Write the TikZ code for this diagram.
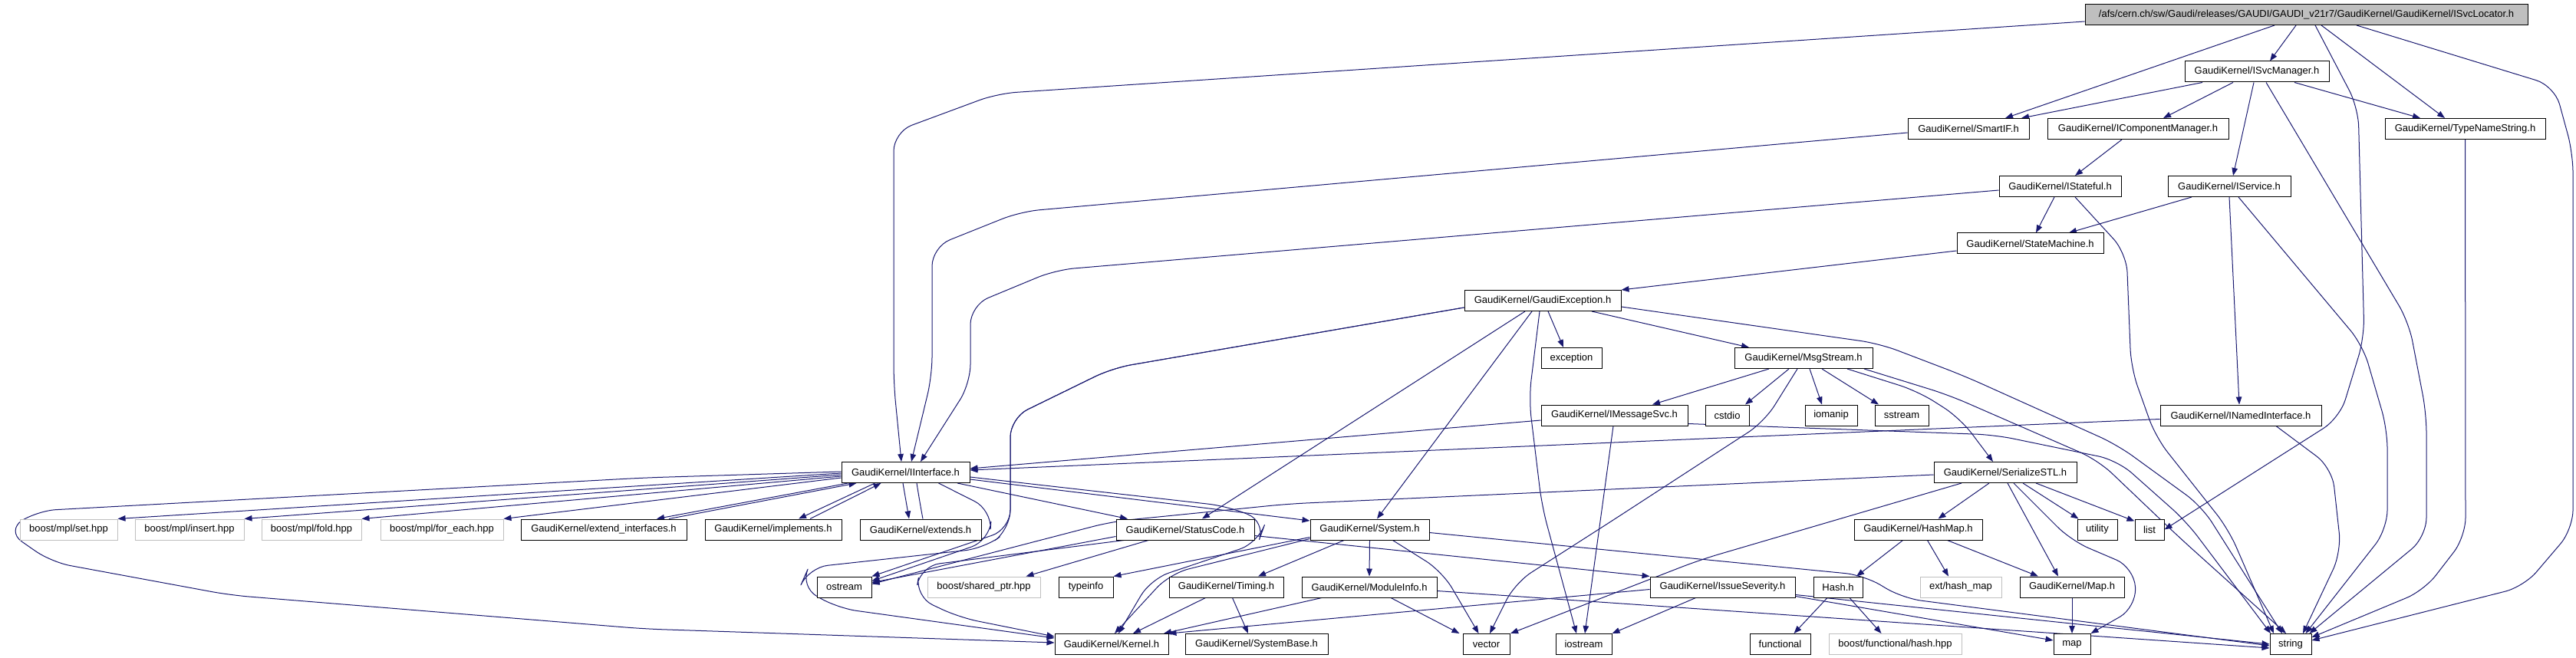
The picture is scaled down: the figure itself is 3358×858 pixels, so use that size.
\documentclass[tikz,border=0pt]{standalone}
\usepackage{fontspec}
\setmainfont{Liberation Sans}
\usetikzlibrary{arrows.meta,calc}
\definecolor{edgec}{HTML}{191970}
\definecolor{rootfill}{HTML}{BFBFBF}
\definecolor{extc}{HTML}{BFBFBF}
\pgfdeclarelayer{bg}
\pgfsetlayers{bg,main}
\tikzset{
 box/.style={draw=black, fill=white, line width=1pt, minimum height=27pt, inner sep=0pt, font=\fontsize{13}{15}\selectfont},
 extbox/.style={box, draw=extc},
 rootbox/.style={box, fill=rootfill},
 e/.style={draw=edgec, line width=1pt, line join=round, -{Triangle[length=10pt,width=7.5pt]}, rounded corners=25pt},
}
\begin{document}
\begin{tikzpicture}[x=1pt,y=-1pt]
\useasboundingbox (0,0) rectangle (3358,858);
% row 0-4
\node[rootbox, minimum width=577pt] (R) at (3006.5,19) {/afs/cern.ch/sw/Gaudi/releases/GAUDI/GAUDI\_v21r7/GaudiKernel/GaudiKernel/ISvcLocator.h};
\node[box, minimum width=188pt] (SM) at (2942,93.5) {GaudiKernel/ISvcManager.h};
\node[box, minimum width=158pt] (SI) at (2566,168) {GaudiKernel/SmartIF.h};
\node[box, minimum width=236pt] (CM) at (2787,168) {GaudiKernel/IComponentManager.h};
\node[box, minimum width=209pt] (TN) at (3213.5,168) {GaudiKernel/TypeNameString.h};
\node[box, minimum width=159pt] (ST) at (2685.5,243) {GaudiKernel/IStateful.h};
\node[box, minimum width=160pt] (IS) at (2906,243) {GaudiKernel/IService.h};
\node[box, minimum width=191pt] (SMc) at (2646.5,317.5) {GaudiKernel/StateMachine.h};
% row 5-7
\node[box, minimum width=204pt] (GE) at (2011,392) {GaudiKernel/GaudiException.h};
\node[box, minimum width=79pt] (EXC) at (2048.5,467) {exception};
\node[box, minimum width=180pt] (MS) at (2351,467) {GaudiKernel/MsgStream.h};
\node[box, minimum width=191pt] (IMS) at (2104.5,541.5) {GaudiKernel/IMessageSvc.h};
\node[box, minimum width=57pt] (CSTD) at (2251.5,541.5) {cstdio};
\node[box, minimum width=68pt] (IOM) at (2387,541.5) {iomanip};
\node[box, minimum width=70pt] (SST) at (2479,541.5) {sstream};
\node[box, minimum width=210pt] (INI) at (2921,541.5) {GaudiKernel/INamedInterface.h};
% row 8
\node[box, minimum width=167pt] (II) at (1180.5,616) {GaudiKernel/IInterface.h};
\node[box, minimum width=186pt] (SER) at (2614,616) {GaudiKernel/SerializeSTL.h};
% row 9
\node[extbox, minimum width=127pt] (BSET) at (89.5,690.5) {boost/mpl/set.hpp};
\node[extbox, minimum width=142pt] (BINS) at (247,690.5) {boost/mpl/insert.hpp};
\node[extbox, minimum width=130pt] (BFOLD) at (406,690.5) {boost/mpl/fold.hpp};
\node[extbox, minimum width=160pt] (BFE) at (576,690.5) {boost/mpl/for\_each.hpp};
\node[box, minimum width=216pt] (EXTI) at (787,690.5) {GaudiKernel/extend\_interfaces.h};
\node[box, minimum width=178pt] (IMPL) at (1008,690.5) {GaudiKernel/implements.h};
\node[box, minimum width=158pt] (EXT) at (1200,690.5) {GaudiKernel/extends.h};
\node[box, minimum width=180pt] (SC) at (1545,690.5) {GaudiKernel/StatusCode.h};
\node[box, minimum width=155pt] (SYS) at (1785.5,690.5) {GaudiKernel/System.h};
\node[box, minimum width=167pt] (HM) at (2500.5,690.5) {GaudiKernel/HashMap.h};
\node[box, minimum width=52pt] (UTIL) at (2734,690.5) {utility};
\node[box, minimum width=38pt] (LIST) at (2802,690.5) {list};
% row 10
\node[box, minimum width=71pt] (OST) at (1100.5,765.5) {ostream};
\node[extbox, minimum width=147pt] (BSP) at (1282.5,765.5) {boost/shared\_ptr.hpp};
\node[box, minimum width=71pt] (TYP) at (1415.5,765.5) {typeinfo};
\node[box, minimum width=149pt] (TIM) at (1598.5,765.5) {GaudiKernel/Timing.h};
\node[box, minimum width=176pt] (MOD) at (1785,765.5) {GaudiKernel/ModuleInfo.h};
\node[box, minimum width=189pt] (ISEV) at (2245.5,765.5) {GaudiKernel/IssueSeverity.h};
\node[box, minimum width=64pt] (HASH) at (2396,765.5) {Hash.h};
\node[extbox, minimum width=106pt] (EHM) at (2556,765.5) {ext/hash\_map};
\node[box, minimum width=136pt] (MAPH) at (2701,765.5) {GaudiKernel/Map.h};
% row 11
\node[box, minimum width=148pt] (KER) at (1449,840) {GaudiKernel/Kernel.h};
\node[box, minimum width=186pt] (SYSB) at (1638,840) {GaudiKernel/SystemBase.h};
\node[box, minimum width=61pt] (VEC) at (1937.5,840) {vector};
\node[box, minimum width=73pt] (IOS) at (2064.5,840) {iostream};
\node[box, minimum width=79pt] (FUNC) at (2320.5,840) {functional};
\node[extbox, minimum width=173pt] (BFH) at (2470.5,840) {boost/functional/hash.hpp};
\node[box, minimum width=48pt] (MAP) at (2701,840) {map};
\node[box, minimum width=54pt] (STR) at (2986,840) {string};

\begin{pgfonlayer}{bg}
% root
\draw[e] ([yshift=-9pt]R.west) -- (1300,122) -- (1165,172) -- (1165,500) -- ([xshift=-5.5pt]II.north);
\draw[e] ([xshift=-13.5pt]R.south) -- ([xshift=17pt]SM.north);
\draw[e] ([xshift=-41.5pt]R.south) -- ([xshift=48pt]SI.north);
\draw[e] ([xshift=11.5pt]R.south) -- (3074,140) -- (3082,440) -- (3050,545) -- (LIST.east);
\draw[e] ([xshift=19.5pt]R.south) -- ([xshift=-26.5pt]TN.north);
\draw[e] ([xshift=65.5pt]R.south) -- (3330,112) -- (3354,200) -- (3354,690) -- (3290,765) -- ([yshift=5pt]STR.east);
% ISvcManager
\draw[e] ([xshift=-71pt]SM.south) -- ([xshift=69pt]SI.north);
\draw[e] ([xshift=-31pt]SM.south) -- ([xshift=33pt]CM.north);
\draw[e] ([xshift=-4pt]SM.south) -- ([xshift=5pt]IS.north);
\draw[e] ([xshift=12pt]SM.south) -- (3140,420) -- (3163,540) -- (3163,700) -- ([xshift=-3pt]STR.north east);
\draw[e] ([xshift=49pt]SM.south) -- ([xshift=-58.5pt]TN.north);
% SmartIF, IComponentManager
\draw[e] ([yshift=-5pt]SI.west) -- (1330,276) -- (1215,322) -- (1215,490) -- ([xshift=7.5pt]II.north);
\draw[e] ([xshift=-21pt]CM.south) -- ([xshift=19.5pt]ST.north);
% IStateful
\draw[e] ([yshift=-5pt]ST.west) -- (1376,352) -- (1265,398) -- (1265,500) -- ([xshift=19.5pt]II.north);
\draw[e] ([xshift=-7.5pt]ST.south) -- ([xshift=7.5pt]SMc.north);
\draw[e] ([xshift=19.5pt]ST.south) -- (2772,330) -- (2778,480) -- (2810,570) -- (2905,690) -- ([xshift=-22pt]STR.north);
% IService
\draw[e] ([xshift=-49pt]IS.south) -- ([xshift=50.5pt]SMc.north);
\draw[e] (IS.south) -- ([xshift=-2pt]INI.north);
\draw[e] ([xshift=12pt]IS.south) -- (3080,450) -- (3112,560) -- (3112,690) -- ([xshift=-8pt]STR.north east);
% TypeNameString
\draw[e] (TN.south) -- (3214,700) -- (3160,770) -- ([yshift=9pt]STR.east);
% INamedInterface
\draw[e] ([yshift=-5pt]INI.west) -- ([yshift=3pt]II.east);
\draw[e] ([xshift=46pt]INI.south) -- (3040,610) -- (3052,720) -- ([xshift=16pt]STR.north);
% StateMachine
\draw[e] ([yshift=-9.5pt]SMc.west) -- (GE.north east);
% GaudiException
\draw[e] ([yshift=-9pt]GE.west) -- (1450,480) -- (1317,545) -- (1317,690) -- (OST.north east);
\draw[e] ([yshift=-9pt]GE.west) -- (1450,480) -- (1317,545) -- (1317,690) -- (1283,715) -- (1054,740) -- (1043,765) -- (1092,793) -- ([yshift=8pt]KER.west);
\draw[e] ([xshift=-23pt]GE.south) -- ([xshift=22pt]SC.north);
\draw[e] ([xshift=-14pt]GE.south) -- ([xshift=9.5pt]SYS.north);
\draw[e] ([xshift=-4pt]GE.south) -- (1993,520) -- (2010,660) -- ([xshift=-9.5pt]IOS.north);
\draw[e] ([xshift=7pt]GE.south) -- ([xshift=-10.5pt]EXC.north);
\draw[e] ([xshift=64pt]GE.south) -- ([xshift=-71pt]MS.north);
\draw[e] ([yshift=-8pt]GE.east) -- (2450,448) -- (2560,490) -- (2760,580) -- (2870,660) -- ([xshift=-11pt]STR.north);
% MsgStream
\draw[e] ([xshift=-45pt]MS.south) -- ([xshift=49.5pt]IMS.north);
\draw[e] ([xshift=-19pt]MS.south) -- ([xshift=23.5pt]CSTD.north);
\draw[e] ([xshift=-8pt]MS.south) -- (2300,550) -- (2100,680) -- (1975,760) -- ([xshift=4.5pt]VEC.north);
\draw[e] ([xshift=8pt]MS.south) -- ([xshift=-12pt]IOM.north);
\draw[e] ([xshift=24pt]MS.south) -- ([xshift=-30pt]SST.north);
\draw[e] ([xshift=57pt]MS.south) -- (2500,510) -- (2555,545) -- ([xshift=-16pt]SER.north);
\draw[e] ([xshift=79pt]MS.south) -- (2540,515) -- (2735,600) -- (2840,700) -- ([xshift=-6pt]STR.north);
% IMessageSvc
\draw[e] ([yshift=-6.5pt]IMS.west) -- ([yshift=5pt]II.east);
\draw[e] ([xshift=-1.5pt]IMS.south) -- ([xshift=1.5pt]IOS.north);
\draw[e] ([yshift=-11pt]IMS.east) -- (2600,567) -- (2760,600) -- (2850,680) -- ([xshift=-26pt]STR.north);
% IInterface
\draw[e] ([yshift=-1pt]II.west) -- (BSET.north east);
\draw[e] ([yshift=-3pt]II.west) -- (BINS.north east);
\draw[e] ([yshift=-5pt]II.west) -- (BFOLD.north east);
\draw[e] ([yshift=-7pt]II.west) -- (BFE.north east);
\draw[e] ([yshift=1pt]II.west) -- (840,623) -- (48,666) -- (8,692) -- (67,733) -- (300,776) -- (840,820) -- ([yshift=2pt]KER.west);
\draw[e] ([xshift=-75pt]II.south) -- ([xshift=69pt]EXTI.north);
\draw[e] ([xshift=85pt]EXTI.north) -- ([xshift=-64pt]II.south);
\draw[e] ([xshift=-40pt]II.south) -- ([xshift=33pt]IMPL.north);
\draw[e] ([xshift=48pt]IMPL.north) -- ([xshift=-32pt]II.south);
\draw[e] ([xshift=-3.5pt]II.south) -- ([xshift=-15pt]EXT.north);
\draw[e] ([xshift=3pt]EXT.north) -- (1198,650) -- ([xshift=14.5pt]II.south);
\draw[e] ([xshift=43pt]II.south) -- (1293,665) -- (1290,705) -- ([yshift=8pt]OST.east);
\draw[e] ([xshift=67.5pt]II.south) -- ([xshift=-75pt]SC.north);
\draw[e] ([yshift=-9pt]II.east) -- ([yshift=11.5pt]SYS.west);
\draw[e] ([yshift=-6pt]II.east) -- (1600,660) -- (1650,680) -- (1640,708) -- (1500,755) -- ([xshift=9pt]KER.north);
% StatusCode
\draw[e] ([yshift=-9pt]SC.west) -- ([yshift=6pt]OST.east);
\draw[e] ([xshift=-80pt]SC.south) -- (1200,738) -- (1193,778) -- (1250,805) -- ([yshift=10pt]KER.west);
\draw[e] ([xshift=-48pt]SC.south) -- ([xshift=55pt]BSP.north);
\draw[e] ([yshift=-8pt]SC.east) -- (ISEV.north west);
% System
\draw[e] ([xshift=-33.5pt]SYS.south) -- ([xshift=41.5pt]TIM.north);
\draw[e] (SYS.south) -- (MOD.north);
\draw[e] ([xshift=30pt]SYS.south) -- (1880,745) -- ([xshift=-10pt]VEC.north);
\draw[e] ([yshift=-4pt]SYS.east) -- (2430,750) -- (2480,780) -- ([yshift=-2pt]STR.west);
\draw[e] ([yshift=-10pt]SYS.west) -- (TYP.north east);
\draw[e] ([yshift=-12pt]SYS.west) -- (1525,748) -- ([xshift=4pt]KER.north);
% Timing, ModuleInfo, IssueSeverity
\draw[e] ([xshift=-27pt]TIM.south) -- ([xshift=28pt]KER.north);
\draw[e] ([xshift=8pt]TIM.south) -- ([xshift=-11pt]SYSB.north);
\draw[e] ([xshift=-62pt]MOD.south) -- ([xshift=68pt]KER.north);
\draw[e] ([xshift=28pt]MOD.south) -- ([xshift=-35pt]VEC.north);
\draw[e] ([yshift=-5pt]MOD.east) -- ([yshift=-5pt]STR.west);
\draw[e] ([yshift=-3pt]ISEV.west) -- (KER.north east);
\draw[e] ([xshift=-35pt]ISEV.south) -- (IOS.north east);
\draw[e] ([yshift=-10pt]ISEV.east) -- (STR.west);
\draw[e] ([yshift=-12pt]ISEV.east) -- ([yshift=5pt]MAP.west);
% SerializeSTL
\draw[e] ([yshift=-3pt]SER.west) -- (1680,657) -- (1450,680) -- ([yshift=4pt]OST.east);
\draw[e] ([xshift=-57pt]SER.south) -- (2216,730) -- ([xshift=31.5pt]VEC.north);
\draw[e] ([xshift=-21pt]SER.south) -- ([xshift=26pt]HM.north);
\draw[e] ([xshift=3pt]SER.south) -- ([xshift=-18pt]MAPH.north);
\draw[e] ([xshift=11pt]SER.south) -- (2700,705) -- (2782,740) -- (2785,792) -- (MAP.north east);
\draw[e] ([xshift=23pt]SER.south) -- ([xshift=2pt]UTIL.north west);
\draw[e] ([xshift=40pt]SER.south) -- ([yshift=-3pt]LIST.north west);
% HashMap, Hash, Map
\draw[e] ([xshift=-20pt]HM.south) -- ([xshift=24pt]HASH.north);
\draw[e] ([xshift=12pt]HM.south) -- ([xshift=-16pt]EHM.north);
\draw[e] ([xshift=38pt]HM.south) -- ([xshift=-44pt]MAPH.north);
\draw[e] ([xshift=-14pt]HASH.south) -- ([xshift=18pt]FUNC.north);
\draw[e] ([xshift=15pt]HASH.south) -- ([xshift=-18pt]BFH.north);
\draw[e] (MAPH.south) -- (MAP.north);
\end{pgfonlayer}
\end{tikzpicture}
\end{document}
